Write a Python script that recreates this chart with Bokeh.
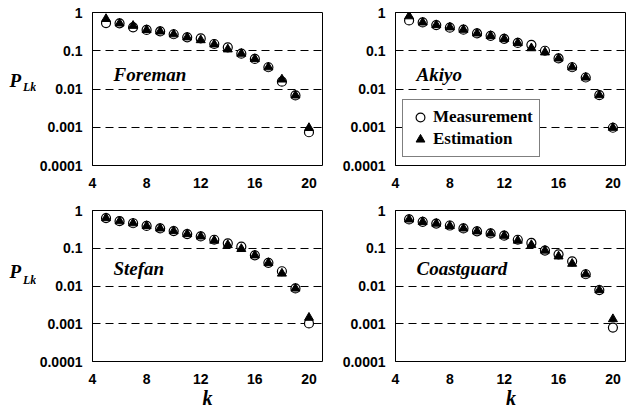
from bokeh.plotting import figure
from bokeh.layouts import column, row
from bokeh.models import (FixedTicker, CustomJSTickFormatter,
                          Label, Range1d, Legend, LegendItem)
from bokeh.core.properties import value
from bokeh.embed import file_html
from bokeh.resources import INLINE

k = list(range(5, 21))
x_ticks = [4, 8, 12, 16, 20]
y_ticks = [0.0001, 0.001, 0.01, 0.1, 1]
grid_ticks = [0.001, 0.01, 0.1]

foreman_meas = [0.53, 0.52, 0.41, 0.35, 0.32, 0.27, 0.225, 0.21, 0.15, 0.123, 0.084, 0.061, 0.037, 0.0155, 0.0068, 0.00074]
foreman_est = [0.68, 0.52, 0.45, 0.35, 0.32, 0.27, 0.225, 0.19, 0.147, 0.109, 0.084, 0.061, 0.037, 0.0178, 0.0068, 0.00096]
akiyo_meas = [0.62, 0.55, 0.47, 0.40, 0.355, 0.284, 0.245, 0.205, 0.16, 0.143, 0.10, 0.063, 0.037, 0.020, 0.0069, 0.00097]
akiyo_est = [0.80, 0.55, 0.47, 0.41, 0.355, 0.284, 0.245, 0.205, 0.16, 0.117, 0.091, 0.063, 0.037, 0.020, 0.0069, 0.00097]
stefan_meas = [0.63, 0.52, 0.46, 0.39, 0.335, 0.285, 0.238, 0.206, 0.168, 0.135, 0.11, 0.065, 0.041, 0.0246, 0.0086, 0.00102]
stefan_est = [0.63, 0.52, 0.46, 0.39, 0.335, 0.285, 0.238, 0.206, 0.16, 0.122, 0.096, 0.065, 0.041, 0.0214, 0.0086, 0.00145]
coast_meas = [0.58, 0.50, 0.45, 0.40, 0.335, 0.28, 0.247, 0.215, 0.168, 0.138, 0.087, 0.069, 0.045, 0.0205, 0.0078, 0.00079]
coast_est = [0.58, 0.50, 0.45, 0.39, 0.335, 0.28, 0.247, 0.215, 0.16, 0.122, 0.087, 0.061, 0.039, 0.0205, 0.0078, 0.00133]

SERIF = "Liberation Serif"
SANS = "Liberation Sans"

TOP_H, BOT_H = 200, 211
LAB_W = 36


def ylabel_fig(height, py, ly):
    """Narrow strip left of a row holding the y label P_Lk."""
    f = figure(width=LAB_W, height=height, x_range=Range1d(0, LAB_W),
               y_range=Range1d(height, 0), output_backend="svg",
               toolbar_location=None, min_border=0)
    f.axis.visible = False
    f.grid.visible = False
    f.outline_line_color = None
    f.text(x=[9], y=[py], text=["P"], text_font=value(SERIF),
           text_font_style="bold italic", text_font_size="19px",
           text_baseline="middle", text_color="black")
    f.text(x=[22.5], y=[ly], text=["Lk"], text_font=value(SERIF),
           text_font_style="bold italic", text_font_size="12px",
           text_baseline="middle", text_color="black")
    return f


def make_panel(name, meas, est, left_col, bottom_row, legend=False):
    if left_col:
        width, mbl, mbr, xmax = 294, 54, 8, 21
    else:
        width, mbl, mbr, xmax = 296, 65, 0, 21
    if bottom_row:
        height, mbt, mbb = BOT_H, 10, 50
    else:
        height, mbt, mbb = TOP_H, 12, 35

    p = figure(width=width, height=height, y_axis_type="log",
               x_range=Range1d(4, xmax), y_range=Range1d(1e-4, 1),
               output_backend="svg", toolbar_location=None,
               min_border_left=mbl, min_border_right=mbr,
               min_border_top=mbt, min_border_bottom=mbb)
    p.outline_line_color = "black"
    p.outline_line_width = 1
    p.background_fill_color = "white"
    p.border_fill_color = "white"
    p.xgrid.visible = False
    p.ygrid.ticker = FixedTicker(ticks=grid_ticks)
    p.ygrid.grid_line_color = "black"
    p.ygrid.grid_line_dash = "8 5"
    p.ygrid.grid_line_width = 1

    ya = p.yaxis[0]
    ya.ticker = FixedTicker(ticks=y_ticks)
    ya.formatter = CustomJSTickFormatter(code="return tick.toString();")
    ya.major_tick_in = 4
    ya.major_tick_out = 0
    ya.minor_tick_in = 0
    ya.minor_tick_out = 0
    ya.minor_tick_line_color = None
    ya.axis_line_color = "black"
    ya.major_label_text_font = SANS
    ya.major_label_text_font_style = "bold"
    ya.major_label_text_font_size = "14px"
    ya.major_label_text_color = "black"
    ya.major_label_standoff = 10

    xa = p.xaxis[0]
    xa.ticker = FixedTicker(ticks=x_ticks)
    xa.major_tick_in = 0
    xa.major_tick_out = 0
    xa.minor_tick_in = 0
    xa.minor_tick_out = 0
    xa.minor_tick_line_color = None
    xa.axis_line_color = None
    xa.major_label_text_font = SANS
    xa.major_label_text_font_style = "bold"
    xa.major_label_text_font_size = "14px"
    xa.major_label_text_color = "black"
    xa.major_label_standoff = 12
    if bottom_row:
        xa.axis_label = "k"
        xa.axis_label_text_font = SERIF
        xa.axis_label_text_font_style = "bold italic"
        xa.axis_label_text_font_size = "20px"
        xa.axis_label_text_color = "black"
        xa.axis_label_standoff = 0

    r1 = p.scatter(k, meas, marker="circle", size=9, fill_color="white",
                   line_color="black", line_width=1.2)
    r2 = p.scatter(k, est, marker="triangle", size=9, fill_color="black",
                   line_color="black", line_width=1)

    ny = 91 if not bottom_row else 93
    p.add_layout(Label(x=21, y=ny, x_units="screen", y_units="screen", text=name,
                       text_font=SERIF, text_font_style="bold italic",
                       text_font_size="19px", text_baseline="middle", text_color="black"))

    if legend:
        lg = Legend(items=[LegendItem(label="Measurement", renderers=[r1]),
                           LegendItem(label="Estimation", renderers=[r2])],
                    location=(7, 8))
        lg.border_line_color = "black"
        lg.border_line_width = 1
        lg.background_fill_color = "white"
        lg.background_fill_alpha = 1
        lg.label_text_font = SERIF
        lg.label_text_font_style = "bold"
        lg.label_text_font_size = "17px"
        lg.label_text_color = "black"
        lg.glyph_width = 22
        lg.glyph_height = 22
        lg.label_height = 22
        lg.spacing = 0
        lg.padding = 6
        lg.margin = 0
        lg.label_standoff = 2
        p.add_layout(lg)
    return p


p1 = make_panel("Foreman", foreman_meas, foreman_est, True, False)
p2 = make_panel("Akiyo", akiyo_meas, akiyo_est, False, False, legend=True)
p3 = make_panel("Stefan", stefan_meas, stefan_est, True, True)
p4 = make_panel("Coastguard", coast_meas, coast_est, False, True)
l1 = ylabel_fig(TOP_H, 89.5, 97)
l2 = ylabel_fig(BOT_H, 85.5, 97.5)

layout = column(row(l1, p1, p2), row(l2, p3, p4))

open("out.html", "w").write(file_html(layout, INLINE))
